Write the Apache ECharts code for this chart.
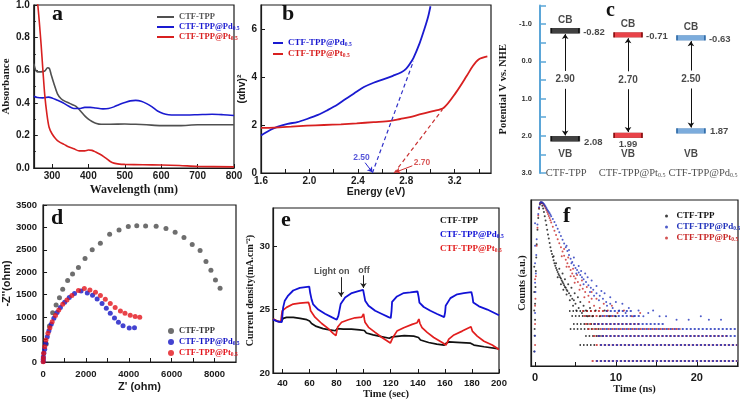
<!DOCTYPE html>
<html><head><meta charset="utf-8">
<script src="https://cdn.jsdelivr.net/npm/echarts@6/dist/echarts.min.js"></script>
<style>html,body{margin:0;padding:0;background:#fff}#c{width:740px;height:401px}</style>
</head><body><div id="c"></div>
<script>
// ---------- panel a : UV-vis absorbance ----------
const aTicksX = [300,400,500,600,700,800];
const aCtf = [[250,0.64],[255,0.60],[260,0.59],[268,0.59],[280,0.595],[288,0.615],[293,0.61],[298,0.57],[305,0.52],[315,0.455],[325,0.425],[335,0.41],[345,0.40],[355,0.39],[365,0.38],[372,0.365],[380,0.345],[390,0.32],[400,0.30],[410,0.285],[420,0.275],[435,0.268],[460,0.268],[500,0.27],[530,0.268],[560,0.265],[600,0.26],[650,0.26],[700,0.265],[750,0.265],[800,0.265]];
const aPd = [[250,0.44],[260,0.432],[275,0.43],[290,0.435],[300,0.43],[315,0.415],[330,0.40],[345,0.38],[360,0.365],[375,0.365],[390,0.372],[405,0.372],[420,0.368],[440,0.363],[455,0.365],[470,0.375],[485,0.39],[500,0.402],[515,0.412],[530,0.415],[545,0.41],[560,0.395],[575,0.375],[590,0.35],[605,0.335],[620,0.327],[640,0.325],[670,0.325],[700,0.327],[740,0.33],[770,0.327],[800,0.322]];
const aPt = [[258,1.05],[261,1.0],[265,0.9],[270,0.76],[275,0.6],[280,0.45],[286,0.33],[292,0.25],[300,0.21],[310,0.18],[320,0.16],[333,0.145],[345,0.13],[360,0.118],[375,0.105],[390,0.105],[400,0.11],[410,0.108],[420,0.098],[432,0.084],[442,0.07],[450,0.057],[460,0.04],[470,0.03],[485,0.024],[500,0.022],[550,0.02],[600,0.018],[650,0.015],[700,0.01],[800,0.007]];

// ---------- panel b : Tauc plot ----------
const bTicksX = [1.6,2.0,2.4,2.8,3.2];
const bTicksXMinor = [1.6,1.8,2.0,2.2,2.4,2.6,2.8,3.0,3.2,3.4];
const bTicksY = [0,2,4,6];
const bPd = [[1.60,1.56],[1.68,1.80],[1.74,1.93],[1.82,2.05],[1.90,2.12],[1.98,2.25],[2.07,2.42],[2.15,2.62],[2.23,2.84],[2.28,3.02],[2.37,3.32],[2.45,3.58],[2.53,3.76],[2.61,3.90],[2.69,4.05],[2.76,4.20],[2.80,4.35],[2.83,4.55],[2.86,4.80],[2.91,5.40],[2.95,6.00],[2.98,6.50],[3.00,6.95]];
const bPt = [[1.60,1.88],[1.71,1.89],[1.85,1.93],[1.98,1.97],[2.12,2.00],[2.26,2.03],[2.39,2.07],[2.53,2.12],[2.67,2.17],[2.75,2.25],[2.83,2.33],[2.91,2.44],[3.02,2.58],[3.11,2.72],[3.21,3.35],[3.30,4.05],[3.35,4.46],[3.40,4.74],[3.47,4.86]];
const bFitPd = [[2.52,0],[2.86,4.67]];
const bFitPt = [[2.70,0],[3.10,2.65]];
const bGapPd = {text:'2.50', at:[2.43,0.64], from:[2.46,0.43], to:[2.52,0.03]};
const bGapPt = {text:'2.70', at:[2.93,0.45], from:[2.85,0.30], to:[2.71,0.03]};

// ---------- panel c : band positions ----------
const cNames = ['CTF-TPP','CTF-TPP@Pt{s|0.5}','CTF-TPP@Pd{s|0.5}'];
const cCB = [-0.82,-0.71,-0.63];
const cVB = [2.08,1.99,1.87];
const cGap = [2.90,2.70,2.50];
const cVBTextY = 2.5;
const cNameY = 3.0;

// ---------- panel d : Nyquist ----------
const dTicksX = [0,2000,4000,6000,8000];
const dTicksXMinor = [1000,2000,3000,4000,5000,6000,7000,8000];
const dCtf = [[150,400],[300,800],[450,1100],[610,1272],[766,1435],[917,1623],[1147,1815],[1376,1964],[1651,2105],[1959,2306],[2294,2500],[2674,2650],[3106,2850],[3546,2940],[3977,3020],[4372,3036],[4784,3030],[5275,3029],[5734,2976],[6161,2895],[6573,2775],[6958,2619],[7325,2485],[7600,2240],[7830,2046],[8042,1830],[8257,1644]];
const dPd = [[8,10],[12,60],[15,118],[40,200],[78,283],[122,417],[199,565],[275,699],[382,841],[505,975],[657,1101],[810,1213],[1009,1332],[1223,1436],[1468,1525],[1774,1585],[2064,1540],[2309,1488],[2523,1406],[2752,1302],[2951,1198],[3136,1086],[3333,982],[3517,885],[3731,810],[4021,759],[4266,766]];
const dPt = [[8,5],[15,90],[30,193],[78,342],[138,491],[229,640],[321,766],[428,900],[581,1034],[734,1161],[917,1287],[1116,1384],[1346,1481],[1651,1592],[1927,1637],[2187,1607],[2446,1555],[2676,1481],[2905,1399],[3136,1302],[3364,1213],[3609,1138],[3823,1086],[4067,1042],[4297,1012],[4511,997]];

// ---------- panel e : photocurrent ----------
const eTicksX = [40,60,80,100,120,140,160,180,200];
const eTicksY = [20,25,30];
const eCtf = [[33,24.25],[36,24.1],[38,24.04],[39.5,24.1],[40.5,24.3],[43,24.38],[48,24.38],[53,24.3],[58,24.2],[60,24.1],[61.5,23.9],[65,23.67],[70,23.5],[75,23.4],[79,23.33],[80.5,23.5],[85,23.45],[91,23.45],[97,23.4],[100.5,23.35],[102,23.15],[107,23.0],[113,22.87],[119,22.74],[121,22.85],[122,22.95],[130,22.95],[137,22.9],[140.5,22.8],[142,22.6],[148,22.4],[154,22.27],[159.5,22.2],[161,22.35],[163,22.45],[169,22.42],[179,22.35],[181.5,22.2],[189,22.07],[200,21.9]];
const ePd = [[33,24.2],[36.8,24.04],[39.5,24.0],[40.5,25.17],[41.7,25.7],[44.2,26.1],[47.9,26.5],[52.8,26.7],[59.8,26.8],[60.5,26.3],[61.5,25.8],[62.7,25.4],[66.4,25.0],[71.4,24.67],[76.3,24.4],[80.1,24.2],[81.3,24.5],[83,25.43],[86.3,25.95],[91.2,26.3],[96.1,26.45],[99.6,26.55],[100.4,26.1],[101.1,25.7],[103.6,25.3],[108.5,24.9],[113.5,24.65],[118.4,24.4],[120,24.33],[120.6,24.9],[121,25.6],[124.6,26.03],[129.6,26.3],[134.5,26.35],[139.8,26.42],[140.6,26.0],[141.2,25.55],[144.4,25.2],[149.3,24.9],[154.3,24.65],[159.5,24.4],[160.2,24.8],[160.6,25.3],[164.1,25.9],[169.1,26.2],[174,26.3],[179.6,26.38],[180.4,26.0],[181,25.55],[185.2,25.25],[191.4,25.0],[200,24.55]];
const ePt = [[33,24.25],[36.8,24.05],[38.8,24.07],[39.8,24.9],[40.5,25.04],[43,25.17],[47.9,25.43],[52.9,25.5],[59.3,25.56],[60.3,25.2],[60.8,24.9],[64,24.4],[69,23.9],[73.9,23.5],[77.6,23.1],[79.5,22.95],[80.8,23.63],[83.7,24.0],[88.7,24.2],[93.6,24.35],[98.6,24.4],[99.9,24.65],[100.6,24.2],[101,24.0],[103.6,23.6],[108.5,23.2],[113.5,22.8],[119.7,22.36],[121.6,22.8],[124.6,23.3],[129.6,23.57],[135.8,23.83],[139.5,23.96],[140.8,24.25],[141.6,23.9],[143.1,23.57],[146.9,23.2],[151.8,22.8],[158,22.4],[160.8,22.2],[162.9,22.67],[166.7,23.0],[172.8,23.3],[179.3,23.65],[180.3,23.3],[183.9,22.9],[188.9,22.5],[195,22.2],[200,21.85]];
const eLightOn = {text:'Light on', at:[76.4,28.0], from:[83.3,27.55], to:[83.3,26.0]};
const eLightOff = {text:'off', at:[100.3,28.1], from:[99.8,27.7], to:[99.8,26.7]};

// ---------- panel f : TRPL decay (counts, log) ----------
const fTicksX = [0,10,20];
const fTicksXMinor = [0,5,10,15,20,25];
const fCtf = [[-0.1,1.5],[-0.05,3],[0,6],[0,12],[0.05,25],[0.1,50],[0.15,90],[0.2,160],[0.3,300],[0.4,500],[0.5,750],[0.6,900],[0.7,980],[0.8,950],[0.9,860],[1.0,760],[1.1,650],[1.2,540],[1.3,450],[1.4,370],[1.5,300],[1.6,245],[1.7,205],[1.8,170],[1.9,140],[2.0,120],[2.1,105],[2.2,92],[2.3,80],[2.4,70],[2.5,63],[2.6,57],[2.7,52],[2.8,48],[2.9,44],[3.0,41],[3.1,38],[3.2,36],[3.3,33],[3.4,31],[3.5,29],[3.6,27],[3.7,25],[3.8,24],[3.9,22],[4.0,21],[4.2,19],[4.4,17],[4.6,15],[4.8,14],[5.0,12],[2.3,95],[2.6,70],[2.8,38],[3.0,55],[3.2,28],[3.4,45],[3.5,22],[3.7,35],[3.9,18],[4.1,28],[4.3,14],[4.5,24],[4.7,11],[4.9,19],[5.1,9],[5.3,16],[5.4,10],[5.6,13],[5.8,8],[6.0,11],[6.3,9],[6.5,7],[6.8,10],[7.1,7],[7.5,9],[8.0,7],[8.6,9],[9.2,7],[10.0,7],[-0.1,20],[-0.1,60],[-0.1,9],[-0.05,4]];
const fPd = [[0,3],[0,8],[0.05,20],[0.1,45],[0.15,100],[0.2,200],[0.3,380],[0.4,600],[0.5,800],[0.6,950],[0.7,1000],[0.8,1000],[0.9,990],[1.0,960],[1.1,920],[1.2,880],[1.3,830],[1.4,780],[1.5,730],[1.6,690],[1.7,650],[1.8,620],[1.9,580],[2.0,545],[2.2,480],[2.4,420],[2.6,365],[2.8,315],[3.0,270],[3.2,230],[3.4,195],[3.6,165],[3.8,140],[4.0,120],[4.2,100],[4.4,85],[4.6,74],[4.8,64],[5.0,57],[5.2,52],[5.4,47],[5.6,42],[5.8,38],[6.0,35],[6.3,31],[6.6,27],[6.9,24],[7.2,22],[7.6,19],[8.0,17],[8.4,15],[8.8,13],[9.3,12],[3.9,150],[4.2,125],[4.5,70],[4.8,90],[5.1,45],[5.4,62],[5.7,50],[6.0,28],[6.2,45],[6.5,38],[6.8,20],[7.0,33],[7.3,17],[7.6,26],[7.9,14],[8.2,21],[8.6,19],[8.9,11],[9.3,16],[9.6,10],[10.0,13],[10.4,9],[10.8,12],[11.2,8],[11.6,10],[12.2,7],[12.8,9],[13.4,7],[14.0,8],[14.6,9],[15.4,7],[16.2,7],[17.5,6],[19.0,6],[20.5,7],[21.5,6],[23.0,6],[0,30],[0,70],[0,150],[0,400],[-0.05,1.5]];
const fPt = [[0,2],[0,5],[0.05,15],[0.1,40],[0.2,150],[0.3,330],[0.4,560],[0.5,780],[0.6,930],[0.7,990],[0.8,990],[0.9,970],[1.0,930],[1.1,880],[1.2,830],[1.3,770],[1.4,710],[1.5,650],[1.6,600],[1.7,550],[1.8,500],[1.9,455],[2.0,415],[2.2,345],[2.4,290],[2.6,240],[2.8,200],[3.0,168],[3.2,140],[3.4,117],[3.6,97],[3.8,82],[4.0,70],[4.2,60],[4.4,52],[4.6,45],[4.8,40],[5.0,36],[5.3,31],[5.6,27],[5.9,23],[6.2,20],[6.6,17],[7.0,15],[3.3,95],[3.6,130],[3.9,60],[4.1,90],[4.4,40],[4.7,55],[4.9,30],[5.2,42],[5.5,22],[5.8,33],[6.1,16],[6.4,25],[6.7,13],[7.0,20],[7.3,11],[7.6,15],[8.0,10],[8.5,12],[9.0,9],[9.5,11],[10.2,8],[11.0,9],[12.0,7],[13.0,8],[0,11],[0,35]];
// floor rows of single-count levels: [counts, tStart, tEnd]
const fRowsCtf = [[2,5.5,7.5],[3,6.2,8.5],[4,4.3,8],[5,4.7,8],[7,4.5,7.5],[9,4.2,7]];
const fRowsPt = [[1,7.0,25],[2,7.5,25],[3,7.2,24],[4,6.5,18],[5,6.2,13],[7,6.0,10],[9,5.8,9]];
const fRowsPd = [[1,7.3,25],[2,7.8,25],[3,7.5,25],[4,8,25],[5,7,16],[7,8,13],[9,8.5,12]];

// ---------- styling ----------
const SERIF = '"Liberation Serif","Times New Roman",serif';
const SANS = '"Liberation Sans",Arial,sans-serif';
const INK = '#1a1a1a';
const GRAY = '#505050', BLUE = '#1a1ad0', RED = '#d82020';
const LEG = {
  a1:'CTF-TPP', a2:'CTF-TPP@Pd{s|0.5}', a3:'CTF-TPP@Pt{s|0.5}',
  b1:'CTF-TPP@Pd{s|0.5}', b2:'CTF-TPP@Pt{s|0.5}',
  d1:'CTF-TPP', d2:'CTF-TPP@Pd{s|0.5}', d3:'CTF-TPP@Pt{s|0.5}',
  e1:'CTF-TPP', e2:'CTF-TPP@Pd{s|0.5}', e3:'CTF-TPP@Pt{s|0.5}',
  f1:'CTF-TPP', f2:'CTF-TPP@Pd{s|0.5}', f3:'CTF-TPP@Pt{s|0.5}'
};
function isObj(o){return o && typeof o==='object' && !Array.isArray(o) && typeof o!=='function';}
function merge(a,b){for(const k in b){ if(isObj(b[k]) && isObj(a[k])) merge(a[k],b[k]); else a[k]=b[k]; } return a;}
const plain = v => String(v);
function ax(gi,o){
  return merge({
    gridIndex:gi, type:'value', nameLocation:'middle',
    axisLine:{show:true,onZero:false,lineStyle:{color:INK,width:1.2}},
    axisTick:{show:true,inside:true,length:4,lineStyle:{color:INK,width:1}},
    axisLabel:{color:INK,fontFamily:SANS,fontWeight:'bold',fontSize:10,margin:4,formatter:plain},
    splitLine:{show:false},
    nameTextStyle:{color:INK,fontFamily:SERIF,fontWeight:'bold',fontSize:11}
  }, o);
}
function legend(names, colors, o){
  return merge({
    orient:'vertical', selectedMode:false,
    data:names.map((n,i)=>({name:n,textStyle:{color:colors[i]}})),
    formatter:n=>LEG[n],
    textStyle:{fontFamily:SERIF,fontWeight:'bold',fontSize:8.5,lineHeight:10,
      rich:{s:{fontSize:5.5,fontFamily:SERIF,fontWeight:'bold',padding:[4,0,0,0]}}}
  }, o);
}
const grid = (l,t,w,h,show)=>({left:l,top:t,width:w,height:h,show:show,borderColor:INK,borderWidth:1.2,backgroundColor:'transparent',containLabel:false});
const letter = (t,l,tp,fs)=>({text:t,left:l,top:tp,padding:0,textStyle:{fontFamily:SERIF,fontWeight:'bold',fontSize:fs||22,color:'#111'}});
const textPoint = (xi,yi,pt,txt,color,fs,extra)=>merge({
  type:'scatter',xAxisIndex:xi,yAxisIndex:yi,symbolSize:1,itemStyle:{color:'transparent'},silent:true,
  data:[pt], label:{show:true,position:'inside',formatter:txt,color:color,fontFamily:SANS,fontWeight:'bold',fontSize:fs}
}, extra||{});
const arrowLine = (from,to,color,size)=>[{coord:from,lineStyle:{color:color,width:1,type:'solid'},symbolSize:size},{coord:to}];

const series = [];
// a
series.push({name:'a1',type:'line',xAxisIndex:0,yAxisIndex:0,data:aCtf,symbol:'none',smooth:0.3,color:GRAY,lineStyle:{width:1.6}});
series.push({name:'a2',type:'line',xAxisIndex:0,yAxisIndex:0,data:aPd,symbol:'none',smooth:0.3,color:BLUE,lineStyle:{width:1.6}});
series.push({name:'a3',type:'line',xAxisIndex:0,yAxisIndex:0,data:aPt,symbol:'none',smooth:0.3,color:RED,lineStyle:{width:1.6}});
// b
series.push({name:'b1',type:'line',xAxisIndex:1,yAxisIndex:1,data:bPd,symbol:'none',smooth:0.3,color:BLUE,lineStyle:{width:1.8},
  markLine:{silent:true,animation:false,symbol:['none','none'],label:{show:false},
    data:[[{coord:bFitPd[0],lineStyle:{color:'#3030c8',width:1.2,type:[4,3]}},{coord:bFitPd[1]}]]}});
series.push({name:'b2',type:'line',xAxisIndex:1,yAxisIndex:1,data:bPt,symbol:'none',smooth:0.3,color:RED,lineStyle:{width:1.8},
  markLine:{silent:true,animation:false,symbol:['none','none'],label:{show:false},
    data:[[{coord:bFitPt[0],lineStyle:{color:'#c83030',width:1.2,type:[4,3]}},{coord:bFitPt[1]}]]}});
[[bGapPd,'#2a2ad0'],[bGapPt,'#d03030']].forEach(([g,c])=>{
  series.push(textPoint(1,1,g.at,g.text,c,8.5,{markLine:{silent:true,animation:false,symbol:['none','arrow'],symbolSize:5,label:{show:false},
    data:[arrowLine(g.from,g.to,c,5)]}}));
});
// c
const cFill=['#111111','#e3141c','#5b97d3'], cEdge=['#000000','#7a0000','#1f5f9f'];
series.push({type:'scatter',xAxisIndex:2,yAxisIndex:2,symbol:'rect',symbolSize:[28,5],silent:true,z:4,
  data:cCB.map((v,i)=>({value:[i,v],itemStyle:{color:cFill[i],borderColor:cEdge[i],borderWidth:0.8}})),
  label:{show:true,position:'top',distance:3,formatter:'CB',color:INK,fontFamily:SANS,fontWeight:'bold',fontSize:10}});
series.push({type:'scatter',xAxisIndex:2,yAxisIndex:2,symbol:'rect',symbolSize:[28,5],silent:true,itemStyle:{color:'transparent'},
  data:cCB.map((v,i)=>[i,v]),
  label:{show:true,position:'right',distance:4,offset:[0,2],formatter:p=>p.value[1].toFixed(2),color:INK,fontFamily:SANS,fontWeight:'bold',fontSize:9.5}});
const vbLab=[{position:'right',offset:[0,4]},{position:'bottom',distance:1},{position:'right'}];
series.push({type:'scatter',xAxisIndex:2,yAxisIndex:2,symbol:'rect',symbolSize:[28,5],silent:true,z:4,
  data:cVB.map((v,i)=>({value:[i,v],itemStyle:{color:cFill[i],borderColor:cEdge[i],borderWidth:0.8},label:vbLab[i]})),
  label:{show:true,distance:4,formatter:p=>p.value[1].toFixed(2),color:INK,fontFamily:SANS,fontWeight:'bold',fontSize:9.5}});
series.push({type:'scatter',xAxisIndex:2,yAxisIndex:2,symbolSize:1,silent:true,itemStyle:{color:'transparent'},
  data:cVB.map((v,i)=>[i,cVBTextY]),
  label:{show:true,position:'inside',formatter:'VB',color:INK,fontFamily:SANS,fontWeight:'bold',fontSize:10}});
const cArrows=[];
cGap.forEach((g,i)=>{const mid=(cCB[i]+cVB[i])/2-0.13;
  cArrows.push(arrowLine([i,mid-0.24],[i,cCB[i]+0.09],'#111',5));
  cArrows.push(arrowLine([i,mid+0.24],[i,cVB[i]-0.09],'#111',5));});
series.push({type:'scatter',xAxisIndex:2,yAxisIndex:2,symbolSize:1,silent:true,itemStyle:{color:'transparent'},
  data:cGap.map((g,i)=>[i,(cCB[i]+cVB[i])/2,g]),
  label:{show:true,position:'inside',offset:[0,-5],formatter:p=>p.value[2].toFixed(2),color:INK,fontFamily:SANS,fontWeight:'bold',fontSize:10},
  markLine:{silent:true,animation:false,symbol:['none','arrow'],symbolSize:5,label:{show:false},data:cArrows}});
const nameOff=[[1,0],[4,0],[12,0]];
series.push({type:'scatter',xAxisIndex:2,yAxisIndex:2,symbolSize:1,silent:true,itemStyle:{color:'transparent'},
  data:cNames.map((n,i)=>({value:[i,cNameY],label:{offset:nameOff[i]}})),
  label:{show:true,position:'inside',formatter:p=>cNames[p.dataIndex],color:INK,fontFamily:SERIF,fontSize:10.5,
    rich:{s:{fontSize:6,fontFamily:SERIF,padding:[5,0,0,0]}}}});
// d
series.push({name:'d1',type:'scatter',xAxisIndex:3,yAxisIndex:3,data:dCtf,symbolSize:5,color:'#4a4a4a'});
series.push({name:'d2',type:'scatter',xAxisIndex:3,yAxisIndex:3,data:dPd,symbolSize:5,color:'#1414c4'});
series.push({name:'d3',type:'scatter',xAxisIndex:3,yAxisIndex:3,data:dPt,symbolSize:5,color:'#e3141c'});
// e
series.push({name:'e1',type:'line',xAxisIndex:4,yAxisIndex:4,data:eCtf,symbol:'none',color:'#111',lineStyle:{width:1.7}});
series.push({name:'e3',type:'line',xAxisIndex:4,yAxisIndex:4,data:ePt,symbol:'none',color:'#e21e1e',lineStyle:{width:1.7}});
series.push({name:'e2',type:'line',xAxisIndex:4,yAxisIndex:4,data:ePd,symbol:'none',color:'#1212d6',lineStyle:{width:1.8}});
[eLightOn,eLightOff].forEach(g=>{
  series.push(textPoint(4,4,g.at,g.text,'#222',9,{markLine:{silent:true,animation:false,symbol:['none','arrow'],symbolSize:5,label:{show:false},
    data:[arrowLine(g.from,g.to,'#222',5)]}}));
});
// f
const rows=(r)=>r.map(([c,t1,t2])=>({coords:[[t1,c],[t2,c]]}));
series.push({type:'lines',coordinateSystem:'cartesian2d',xAxisIndex:5,yAxisIndex:5,silent:true,polyline:false,data:rows(fRowsCtf),lineStyle:{color:'#111',width:1.5,type:[1.5,2],opacity:1}});
series.push({type:'lines',coordinateSystem:'cartesian2d',xAxisIndex:5,yAxisIndex:5,silent:true,polyline:false,data:rows(fRowsPt),lineStyle:{color:'#c82828',width:1.6,type:[2,2],opacity:1}});
series.push({type:'lines',coordinateSystem:'cartesian2d',xAxisIndex:5,yAxisIndex:5,silent:true,polyline:false,data:rows(fRowsPd),lineStyle:{color:'#2233bb',width:1.6,type:[2,2],dashOffset:2,opacity:1}});
series.push({name:'f1',type:'scatter',xAxisIndex:5,yAxisIndex:5,data:fCtf,symbolSize:2,color:'#111'});
series.push({name:'f3',type:'scatter',xAxisIndex:5,yAxisIndex:5,data:fPt,symbolSize:2,color:'#c82828'});
series.push({name:'f2',type:'scatter',xAxisIndex:5,yAxisIndex:5,data:fPd,symbolSize:2,color:'#2233bb'});

const option = {
  animation:false,
  backgroundColor:'#ffffff',
  title:[letter('a',52,3),letter('b',282,3),letter('c',606,1,20),letter('d',51,207),letter('e',281,209),letter('f',563,205)],
  grid:[grid(29,5,205,163,true),grid(261,5,230,168,true),grid(540,5.4,200,167.6,false),grid(39,205,197,157,true),grid(273,208,226,166,true),grid(531,200,207,166,true)],
  legend:[
    legend(['a1','a2','a3'],['#555555','#1a1ad0','#d82020'],{left:152,top:7,icon:'rect',itemWidth:17,itemHeight:2,itemGap:0}),
    legend(['b1','b2'],['#1a1ad0','#d82020'],{left:268,top:33,icon:'rect',itemWidth:10,itemHeight:2,itemGap:1,textStyle:{fontSize:9}}),
    legend(['d1','d2','d3'],['#333333','#1414c4','#e3141c'],{left:163,top:321,icon:'circle',itemWidth:6,itemHeight:6,itemGap:1}),
    legend(['e1','e2','e3'],['#111111','#1212d6','#e21e1e'],{left:429,top:211,itemWidth:0,itemHeight:0,itemGap:4,textStyle:{fontSize:9}}),
    legend(['f1','f2','f3'],['#111111','#2233bb','#c82828'],{left:660,top:206,icon:'circle',itemWidth:10,itemHeight:3,itemGap:1,textStyle:{fontSize:9}})
  ],
  xAxis:[
    ax(0,{min:250,max:800,name:'Wavelength (nm)',nameGap:16,nameTextStyle:{fontSize:12},axisLabel:{customValues:aTicksX,margin:3},axisTick:{customValues:aTicksX}}),
    ax(1,{min:1.6,max:3.5,name:'Energy (eV)',nameGap:14,nameTextStyle:{fontFamily:SANS,fontSize:10.5},axisLabel:{customValues:bTicksX,formatter:v=>v.toFixed(1),margin:3},axisTick:{customValues:bTicksXMinor}}),
    {gridIndex:2,type:'value',min:-0.4,max:2.78,show:false},
    ax(3,{min:0,max:9000,name:"Z' (ohm)",nameGap:19,nameTextStyle:{fontFamily:SANS,fontSize:11},axisLabel:{customValues:dTicksX,margin:7,fontSize:9.5},axisTick:{customValues:dTicksXMinor}}),
    ax(4,{min:33,max:200,name:'Time (sec)',nameGap:16,nameTextStyle:{fontSize:10.5},axisLabel:{customValues:eTicksX,margin:5,fontSize:9.5},axisTick:{customValues:eTicksX}}),
    ax(5,{min:-0.5,max:25.1,name:'Time (ns)',nameGap:14,nameTextStyle:{fontSize:10.5},axisLabel:{customValues:fTicksX,margin:6,fontSize:11},axisTick:{customValues:fTicksXMinor}})
  ],
  yAxis:[
    ax(0,{min:0,max:1,interval:0.2,name:'Absorbance',nameGap:19,axisLabel:{formatter:v=>v.toFixed(1)},minorTick:{show:true,splitNumber:2,length:2}}),
    ax(1,{min:0,max:7,name:'(αhv)²',nameGap:12,nameTextStyle:{fontFamily:SANS,fontSize:10.5},axisLabel:{customValues:bTicksY},axisTick:{customValues:bTicksY}}),
    {gridIndex:2,type:'value',inverse:true,min:-1.5,max:3,interval:0.5,name:'Potential V vs. NHE',nameLocation:'middle',nameGap:31,
      nameTextStyle:{fontFamily:SERIF,fontWeight:'bold',fontSize:10.5,color:INK},
      axisLine:{show:true,onZero:false,lineStyle:{color:'#5ba6d8',width:2}},
      axisTick:{show:true,inside:true,length:6,lineStyle:{color:'#5ba6d8',width:1.5}},
      axisLabel:{formatter:v=>Math.abs(v-Math.round(v))<1e-9?v.toFixed(1):'',fontSize:7.5,fontWeight:'bold',fontFamily:SANS,color:'#333',margin:8},
      splitLine:{show:false}},
    ax(3,{min:0,max:3500,interval:500,name:"-Z''(ohm)",nameGap:27,nameTextStyle:{fontFamily:SANS},axisLabel:{margin:6,fontSize:9.5}}),
    ax(4,{min:20,max:33,name:'Current density(mA.cm⁻²)',nameGap:18,nameTextStyle:{fontSize:10},axisLabel:{customValues:eTicksY,margin:3,fontSize:9.5},axisTick:{customValues:eTicksY}}),
    ax(5,{type:'log',min:0.8,max:1100,name:'Counts (a.u.)',nameGap:4,nameTextStyle:{fontSize:10},axisLabel:{show:false},axisTick:{show:false}})
  ],
  series:series
};
const chart = echarts.init(document.getElementById('c'));
chart.setOption(option);
</script></body></html>
